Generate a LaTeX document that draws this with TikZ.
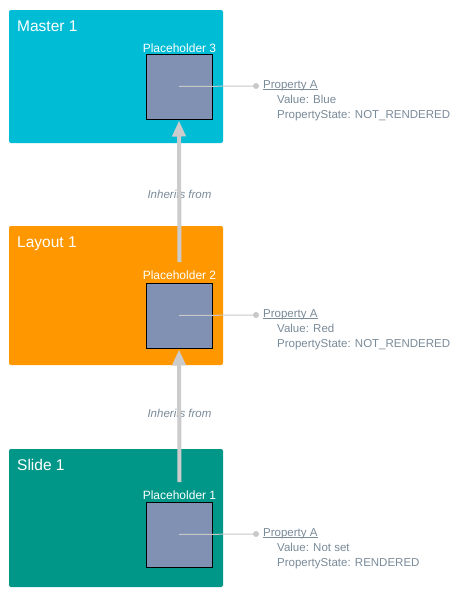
\documentclass[tikz,border=0pt]{standalone}
\usepackage{fontspec}
\setmainfont{Liberation Sans}
\usetikzlibrary{arrows.meta}
\definecolor{mastercol}{HTML}{00BCD4}
\definecolor{layoutcol}{HTML}{FF9800}
\definecolor{slidecol}{HTML}{009688}
\definecolor{phcol}{HTML}{8091B3}
\definecolor{txtgrey}{HTML}{7A8B99}
\definecolor{linegrey}{HTML}{C8C8C8}
\definecolor{arrowgrey}{HTML}{CCCCCC}
\tikzset{
  slidebox/.style={rectangle, rounded corners=2pt, inner sep=0pt, outer sep=0pt,
    minimum width=214pt, minimum height=134pt, draw=none},
  phbox/.style={rectangle, fill=phcol, draw=black, line width=1pt, inner sep=0pt,
    minimum width=66pt, minimum height=65pt},
  titletext/.style={anchor=base west, inner sep=0pt, text=white, font=\fontsize{15.5}{18}\selectfont},
  phlabel/.style={anchor=base, inner sep=0pt, text=white, font=\fontsize{12}{14}\selectfont},
  proptext/.style={anchor=base west, inner sep=0pt, text=txtgrey, font=\fontsize{11.5}{13}\selectfont},
  inhtext/.style={anchor=base, inner sep=0pt, text=txtgrey, font=\fontsize{11.5}{13}\selectfont\itshape},
  propline/.style={draw=linegrey, line width=1pt},
  propdot/.style={circle, fill=linegrey, inner sep=0pt, minimum size=6pt},
  uline/.style={draw=txtgrey, line width=0.8pt},
  inharrow/.style={draw=arrowgrey, line width=4pt, -{Triangle[width=13pt,length=16pt]}}
}
\begin{document}
\begin{tikzpicture}[x=1pt,y=-1pt]
\useasboundingbox[fill=white] (0,0) rectangle (463,597);
% boxes
\node[slidebox, fill=mastercol, minimum height=133pt] (master) at (116,76.5) {};
\node[slidebox, fill=layoutcol, minimum height=139pt] (layout) at (116,295.5) {};
\node[slidebox, fill=slidecol, minimum height=138pt] (slide) at (116,518) {};
% titles
\node[titletext] (mtitle) at (17,31) {Master 1};
\node[titletext] (ltitle) at (17,247) {Layout 1};
\node[titletext] (stitle) at (17,470) {Slide 1};
% placeholder labels
\node[phlabel] (lab3) at (179.5,52) {Placeholder 3};
\node[phlabel] (lab2) at (179.5,279) {Placeholder 2};
\node[phlabel] (lab1) at (179.5,499) {Placeholder 1};
% placeholder squares
\node[phbox] (ph3) at (179,86.5) {};
\node[phbox] (ph2) at (179,315.5) {};
\node[phbox] (ph1) at (179,534.5) {};
% property dots
\node[propdot] (d3) at (256,86) {};
\node[propdot] (d2) at (256,315) {};
\node[propdot] (d1) at (256,534) {};
\draw[propline] (ph3.center) -- (d3);
\draw[propline] (ph2.center) -- (d2);
\draw[propline] (ph1.center) -- (d1);
% property texts
\node[proptext] (p3a) at (263,88) {Property A};
\node[proptext] (p3b) at (277,103) {Value: Blue};
\node[proptext] (p3c) at (277,118) {PropertyState: NOT\_RENDERED};
\node[proptext] (p2a) at (263,317) {Property A};
\node[proptext] (p2b) at (277,332) {Value: Red};
\node[proptext] (p2c) at (277,347) {PropertyState: NOT\_RENDERED};
\node[proptext] (p1a) at (263,536) {Property A};
\node[proptext] (p1b) at (277,551) {Value: Not set};
\node[proptext] (p1c) at (277,566) {PropertyState: RENDERED};
\draw[uline] ([yshift=-1.5pt]p3a.base west) -- ([yshift=-1.5pt]p3a.base east);
\draw[uline] ([yshift=-1.5pt]p2a.base west) -- ([yshift=-1.5pt]p2a.base east);
\draw[uline] ([yshift=-1.5pt]p1a.base west) -- ([yshift=-1.5pt]p1a.base east);
% inherits labels
\node[inhtext] (inh1) at (179.5,198) {Inherits from};
\node[inhtext] (inh2) at (179.5,417) {Inherits from};
% arrows
\draw[inharrow] ([yshift=8pt]lab2.north) -- ([yshift=-1pt]ph3.south);
\draw[inharrow] ([yshift=8pt]lab1.north) -- ([yshift=-1pt]ph2.south);
\end{tikzpicture}
\end{document}
